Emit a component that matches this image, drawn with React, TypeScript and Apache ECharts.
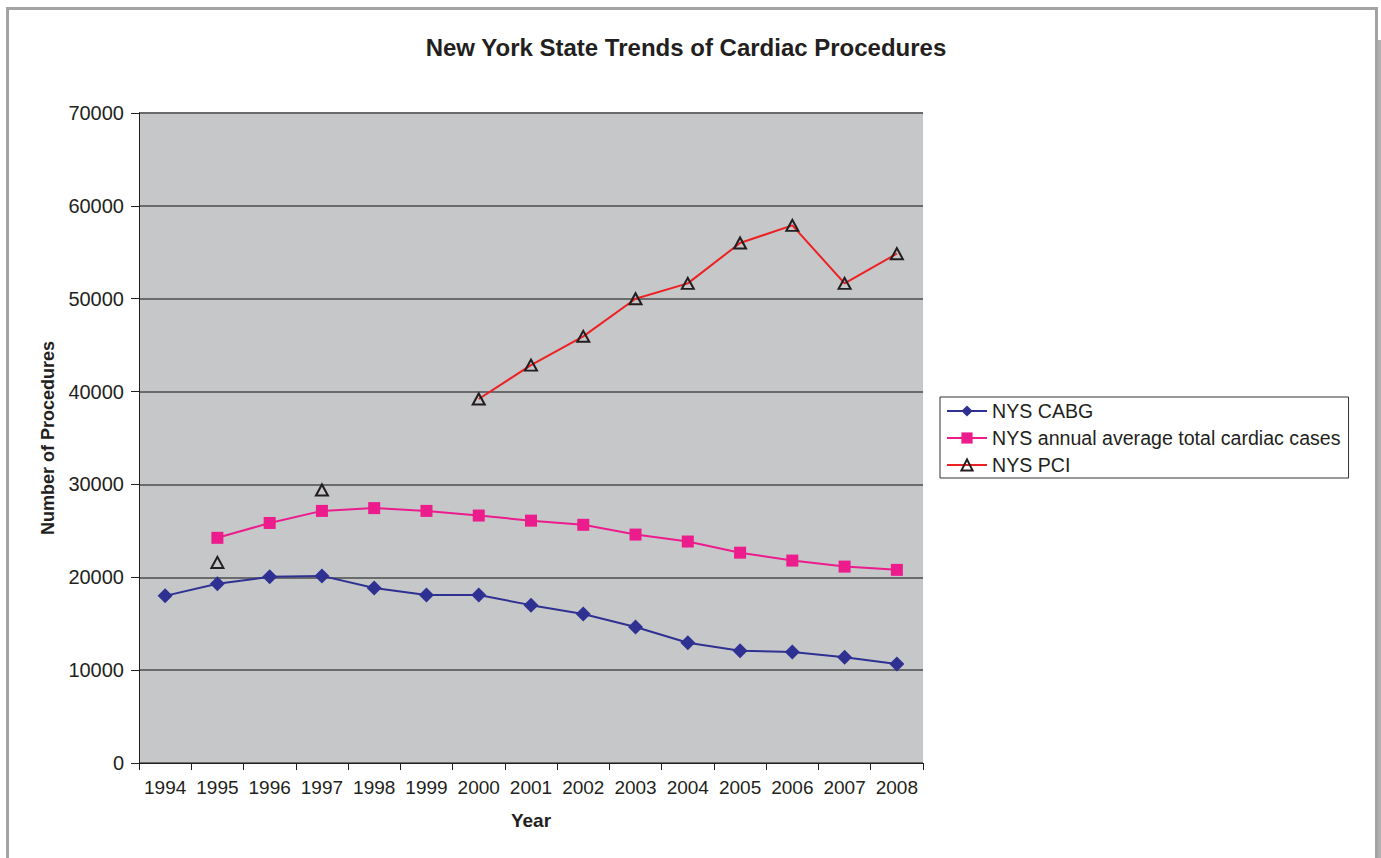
import React, { useEffect, useRef } from "react";
import * as echarts from "echarts";

const years = ["1994", "1995", "1996", "1997", "1998", "1999", "2000", "2001", "2002", "2003", "2004", "2005", "2006", "2007", "2008"];
const cabg = [18000, 19300, 20050, 20150, 18850, 18100, 18100, 17000, 16050, 14650, 12950, 12100, 11950, 11400, 10650];
const totalCardiac = [null, 24250, 25850, 27150, 27450, 27150, 26650, 26100, 25650, 24600, 23850, 22650, 21800, 21150, 20800];
const pci = [null, 21600, null, 29400, null, null, 39200, 42850, 45950, 50000, 51650, 56000, 57900, 51650, 54850];

const FONT = "'Liberation Sans', Arial, sans-serif";

export default function App() {
  const ref = useRef<HTMLDivElement>(null);
  useEffect(() => {
    const chart = echarts.init(ref.current!, null, { renderer: "svg" });
    chart.setOption({
      animation: false,
      backgroundColor: "#ffffff",
      textStyle: { fontFamily: FONT },
      graphic: [
        { type: "rect", shape: { x: 7.5, y: 8.5, width: 1369, height: 900 }, style: { fill: "none", stroke: "#a3a3a3", lineWidth: 3 }, silent: true },
        { type: "rect", shape: { x: 1378, y: 40, width: 3, height: 900 }, style: { fill: "#b0b0b0" }, silent: true },
        { type: "text", x: 686, y: 47, style: { text: "New York State Trends of Cardiac Procedures", font: `bold 24px ${FONT}`, fill: "#231f20", textAlign: "center", textVerticalAlign: "middle" } },
      ],
      grid: { left: 139, right: 458, top: 113, bottom: 95, show: true, backgroundColor: "#c6c7c9", borderWidth: 0 },
      legend: {
        orient: "vertical",
        left: 940,
        top: 397,
        backgroundColor: "#ffffff",
        borderColor: "#333333",
        borderWidth: 1,
        borderRadius: 0,
        padding: [4, 8, 3, 6],
        itemWidth: 40,
        itemHeight: 14,
        itemGap: 7,
        textStyle: { fontSize: 19.6, lineHeight: 20, color: "#231f20", fontFamily: FONT },
        data: ["NYS CABG", "NYS annual average total cardiac cases", "NYS PCI"],
      },
      xAxis: {
        type: "category",
        data: years,
        boundaryGap: true,
        name: "Year",
        nameLocation: "middle",
        nameGap: 48,
        nameTextStyle: { fontSize: 19, fontWeight: "bold", color: "#231f20" },
        axisLine: { lineStyle: { color: "#231f20", width: 1 } },
        axisTick: { show: true, length: 7, interval: 0, alignWithLabel: false, lineStyle: { color: "#231f20" } },
        axisLabel: { fontSize: 19, color: "#231f20", margin: 15, interval: 0, hideOverlap: false },
        splitLine: { show: false },
      },
      yAxis: {
        type: "value",
        min: 0,
        max: 70000,
        interval: 10000,
        name: "Number of Procedures",
        nameLocation: "middle",
        nameGap: 82,
        nameTextStyle: { fontSize: 18, fontWeight: "bold", color: "#231f20" },
        axisLine: { show: true, lineStyle: { color: "#231f20", width: 1 } },
        axisTick: { show: true, length: 8, lineStyle: { color: "#231f20" } },
        axisLabel: { fontSize: 20, color: "#231f20", margin: 15, formatter: (v: number) => String(v) },
        splitLine: { show: true, lineStyle: { color: "#6b6b6b", width: 2 } },
      },
      series: [
        {
          name: "NYS CABG",
          type: "line",
          data: cabg,
          symbol: "diamond",
          symbolSize: [15, 15],
          lineStyle: { color: "#2e3192", width: 2 },
          itemStyle: { color: "#2e3192" },
        },
        {
          name: "NYS annual average total cardiac cases",
          type: "line",
          data: totalCardiac,
          symbol: "rect",
          symbolSize: 12,
          lineStyle: { color: "#ec1c8c", width: 2 },
          itemStyle: { color: "#ec1c8c" },
        },
        {
          name: "NYS PCI",
          type: "line",
          data: pci,
          connectNulls: false,
          symbol: "triangle",
          symbolSize: [12, 11],
          showAllSymbol: true,
          lineStyle: { color: "#ed2024", width: 2 },
          itemStyle: { color: "none", borderColor: "#231f20", borderWidth: 2 },
        },
      ],
    });
    return () => chart.dispose();
  }, []);
  return (
    <div style={{ position: "absolute", left: 0, top: 0, width: 1381, height: 858, background: "#fff" }}>
      <div ref={ref} style={{ width: 1381, height: 858 }} />
    </div>
  );
}
